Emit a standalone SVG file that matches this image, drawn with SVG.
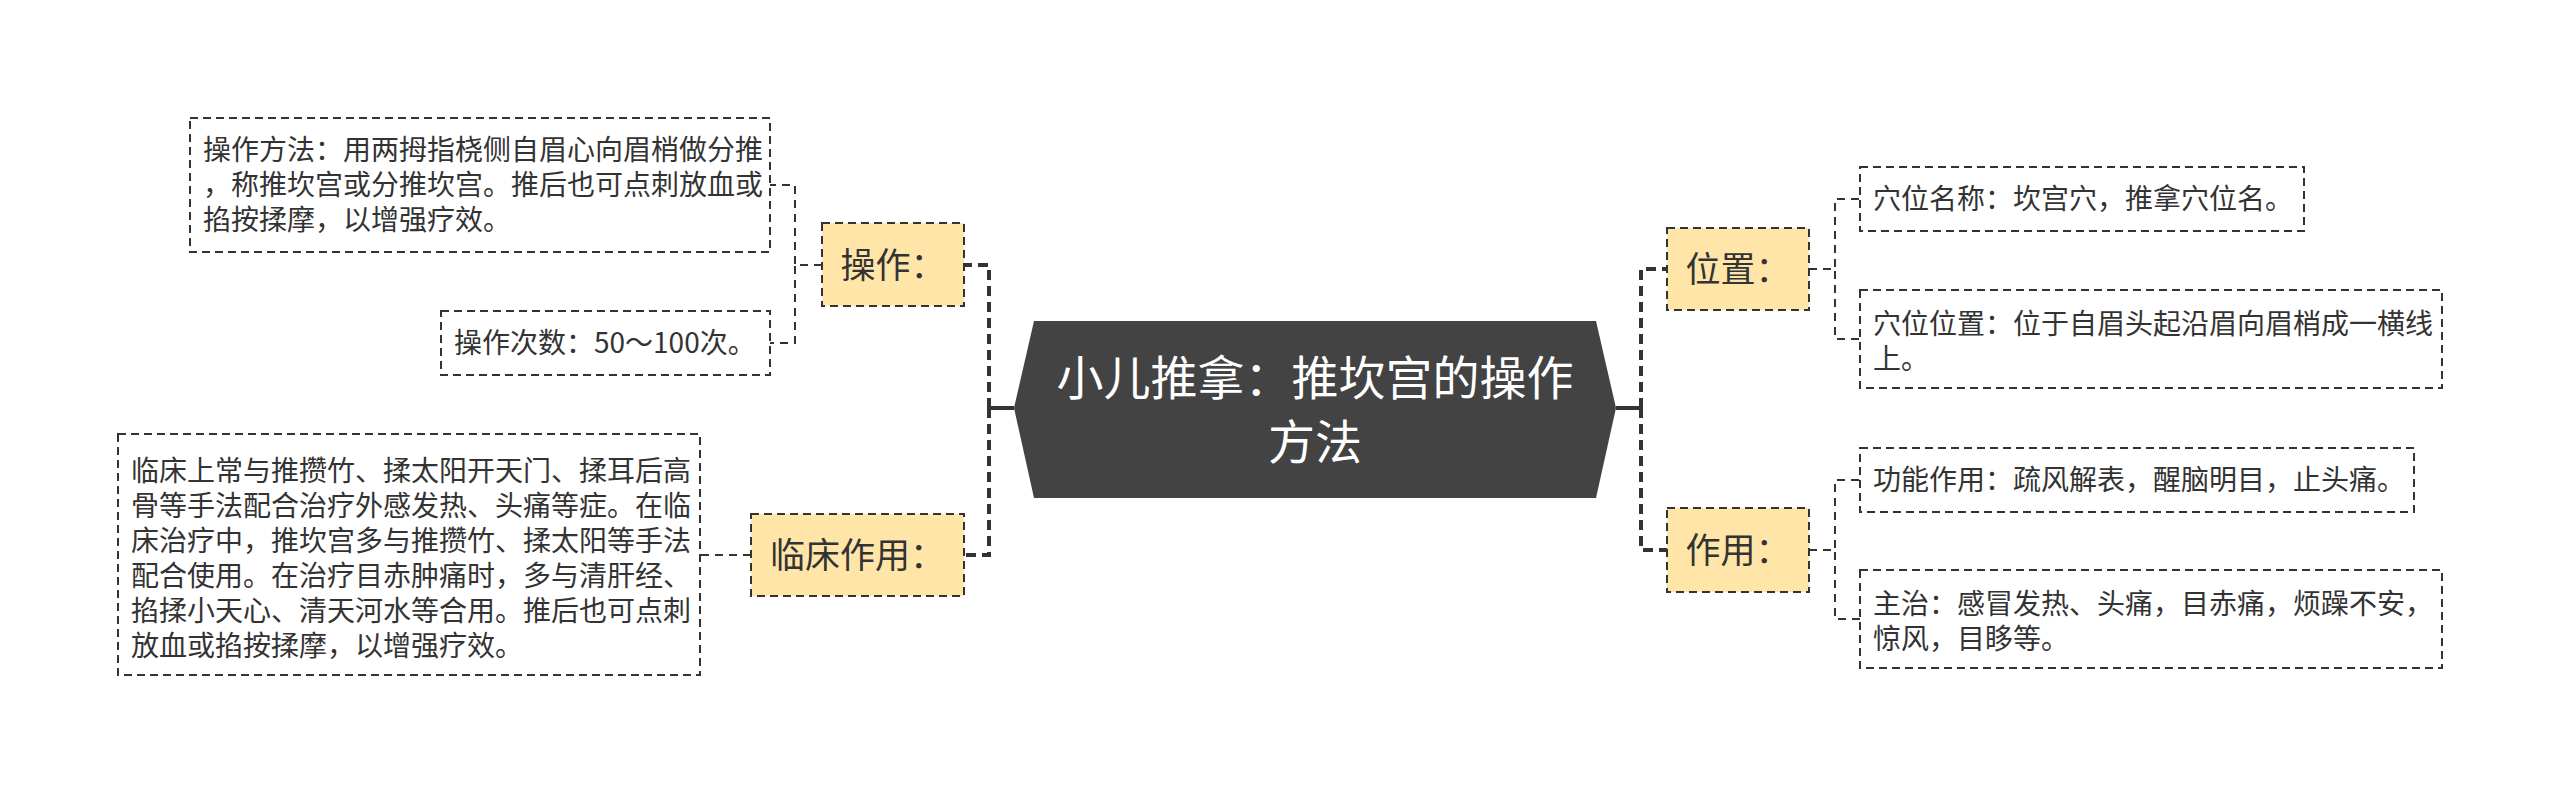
<svg xmlns="http://www.w3.org/2000/svg" width="2560" height="794" viewBox="0 0 2560 794">
<style>
.t{font-family:"Noto Sans CJK SC","Noto Sans",sans-serif;fill:#333333}
.c{font-size:28px}
.l{font-size:35px;text-anchor:middle}
.root{font-family:"Noto Sans CJK SC","Noto Sans",sans-serif;font-size:47px;fill:#ffffff;text-anchor:middle}
.box{fill:#ffffff;stroke:#333333;stroke-width:2;stroke-dasharray:8 5}
.lab{fill:#FFE6A8;stroke:#333333;stroke-width:2;stroke-dasharray:8 5}
.trunk{fill:none;stroke:#333333;stroke-width:4;stroke-dasharray:10 6}
.solid{fill:none;stroke:#333333;stroke-width:4}
.br{fill:none;stroke:#333333;stroke-width:2;stroke-dasharray:8 6}
</style>
<rect width="2560" height="794" fill="#ffffff"/>
<g id="connectors">
<path class="solid" d="M1014,408 H989"/>
<path class="trunk" d="M989,408 V265 H964"/>
<path class="trunk" d="M989,408 V555 H964"/>
<path class="solid" d="M1616,408 H1641"/>
<path class="trunk" d="M1641,408 V269 H1667"/>
<path class="trunk" d="M1641,408 V550 H1667"/>
<path class="br" d="M822,265 H795 V185 H770"/>
<path class="br" d="M822,265 H795 V343 H770"/>
<path class="br" d="M751,555 H700"/>
<path class="br" d="M1809,269 H1835 V199 H1860"/>
<path class="br" d="M1809,269 H1835 V339 H1860"/>
<path class="br" d="M1809,550 H1835 V480 H1860"/>
<path class="br" d="M1809,550 H1835 V619 H1860"/>
</g>
<g id="root">
<polygon points="1014,408 1034,321 1596,321 1616,408 1596,498 1034,498" fill="#434343"/>
<text class="root" x="1315" y="395">小儿推拿：推坎宫的操作</text>
<text class="root" x="1315" y="459">方法</text>
</g>
<g id="op">
<rect class="lab" x="822" y="223" width="142" height="83"/>
<text class="t l" x="893" y="278">操作：</text>
</g>
<g id="op1">
<rect class="box" x="190" y="118" width="580" height="134"/>
<text class="t c" x="203" y="160">操作方法：用两拇指桡侧自眉心向眉梢做分推</text>
<text class="t c" x="203" y="195">，称推坎宫或分推坎宫。推后也可点刺放血或</text>
<text class="t c" x="203" y="230">掐按揉摩，以增强疗效。</text>
</g>
<g id="op2">
<rect class="box" x="441" y="311" width="329" height="64"/>
<text class="t c" x="454" y="353">操作次数：50～100次。</text>
</g>
<g id="clin">
<rect class="lab" x="751" y="514" width="213" height="82"/>
<text class="t l" x="857.5" y="568">临床作用：</text>
</g>
<g id="clin1">
<rect class="box" x="118" y="434" width="582" height="241"/>
<text class="t c" x="131" y="481">临床上常与推攒竹、揉太阳开天门、揉耳后高</text>
<text class="t c" x="131" y="516">骨等手法配合治疗外感发热、头痛等症。在临</text>
<text class="t c" x="131" y="551">床治疗中，推坎宫多与推攒竹、揉太阳等手法</text>
<text class="t c" x="131" y="586">配合使用。在治疗目赤肿痛时，多与清肝经、</text>
<text class="t c" x="131" y="621">掐揉小天心、清天河水等合用。推后也可点刺</text>
<text class="t c" x="131" y="656">放血或掐按揉摩，以增强疗效。</text>
</g>
<g id="pos">
<rect class="lab" x="1667" y="228" width="142" height="82"/>
<text class="t l" x="1738" y="282">位置：</text>
</g>
<g id="pos1">
<rect class="box" x="1860" y="167" width="444" height="64"/>
<text class="t c" x="1873" y="209">穴位名称：坎宫穴，推拿穴位名。</text>
</g>
<g id="pos2">
<rect class="box" x="1860" y="290" width="582" height="98"/>
<text class="t c" x="1873" y="334">穴位位置：位于自眉头起沿眉向眉梢成一横线</text>
<text class="t c" x="1873" y="369">上。</text>
</g>
<g id="eff">
<rect class="lab" x="1667" y="508" width="142" height="84"/>
<text class="t l" x="1738" y="563">作用：</text>
</g>
<g id="eff1">
<rect class="box" x="1860" y="448" width="554" height="64"/>
<text class="t c" x="1873" y="490">功能作用：疏风解表，醒脑明目，止头痛。</text>
</g>
<g id="eff2">
<rect class="box" x="1860" y="570" width="582" height="98"/>
<text class="t c" x="1873" y="614">主治：感冒发热、头痛，目赤痛，烦躁不安，</text>
<text class="t c" x="1873" y="649">惊风，目眵等。</text>
</g>
</svg>
